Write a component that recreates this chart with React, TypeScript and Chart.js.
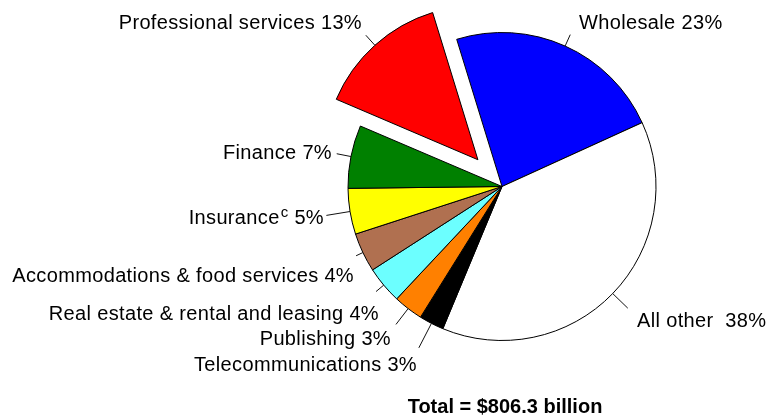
import React, { useEffect, useRef } from "react";
import { Chart, registerables } from "chart.js";

Chart.register(...registerables);

const categories = [
  "Wholesale",
  "All other",
  "Telecommunications",
  "Publishing",
  "Real estate & rental and leasing",
  "Accommodations & food services",
  "Insurance",
  "Finance",
  "Professional services",
];
const shares = [22.9, 38.0, 2.6, 3.1, 3.9, 4.1, 4.8, 6.6, 13.8];
const percentLabels = ["23%", "38%", "3%", "3%", "4%", "4%", "5%", "7%", "13%"];
const colors = [
  "#0000FF",
  "#FFFFFF",
  "#000000",
  "#FF8000",
  "#6CFFFF",
  "#B07050",
  "#FFFF00",
  "#008000",
  "#FF0000",
];
const explodedIndex = 8;
const totalText = "Total = $806.3 billion";

// label layout (style only): anchor x, baseline y, side, leader length
const labelLayout = [
  { x: 579, y: 29, align: "left", lead: 12.5 },
  { x: 637, y: 327, align: "left", lead: 21 },
  { x: 417, y: 371, align: "right", lead: 27.5 },
  { x: 391, y: 345, align: "right", lead: 20 },
  { x: 379, y: 320, align: "right", lead: 10 },
  { x: 354, y: 282, align: "right", lead: 7.5 },
  { x: 323, y: 224, align: "right", lead: 24 },
  { x: 332, y: 159, align: "right", lead: 14.5 },
  { x: 362, y: 29, align: "right", lead: 13.5 },
];

const FONT = "20px 'Liberation Sans', Arial, sans-serif";
const SUP_FONT = "15px 'Liberation Sans', Arial, sans-serif";

const explodePlugin = {
  id: "explodeSlice",
  afterDatasetsUpdate(chart: any) {
    const meta = chart.getDatasetMeta(0);
    const el = meta.data[explodedIndex];
    if (!el) return;
    const mid = (el.startAngle + el.endAngle) / 2;
    el.x += Math.cos(mid) * 36;
    el.y += Math.sin(mid) * 36;
  },
};

const labelPlugin = {
  id: "pieLabels",
  afterDatasetsDraw(chart: any) {
    const ctx = chart.ctx;
    const meta = chart.getDatasetMeta(0);
    ctx.save();
    meta.data.forEach((el: any, i: number) => {
      const lay = labelLayout[i];
      const mid = (el.startAngle + el.endAngle) / 2;
      const r = el.outerRadius;
      ctx.beginPath();
      ctx.strokeStyle = "#111";
      ctx.lineWidth = 1;
      ctx.moveTo(el.x + Math.cos(mid) * r, el.y + Math.sin(mid) * r);
      ctx.lineTo(el.x + Math.cos(mid) * (r + lay.lead), el.y + Math.sin(mid) * (r + lay.lead));
      ctx.stroke();

      const name = categories[i];
      const gap = i === 1 ? "  " : " ";
      const tail = gap + percentLabels[i];
      const sup = i === 6 ? "c" : "";
      ctx.fillStyle = "#000";
      ctx.textAlign = "left";
      ctx.textBaseline = "alphabetic";
      (ctx as any).letterSpacing = "0.35px";
      ctx.font = FONT;
      const wName = ctx.measureText(name).width;
      const wTail = ctx.measureText(tail).width;
      ctx.font = SUP_FONT;
      const wSup = sup ? ctx.measureText(sup).width : 0;
      const total = wName + wSup + wTail;
      let x = lay.align === "left" ? lay.x : lay.x - total;
      ctx.font = FONT;
      ctx.fillText(name, x, lay.y);
      x += wName;
      if (sup) {
        ctx.font = SUP_FONT;
        ctx.fillText(sup, x + 1, lay.y - 7);
        x += wSup + 1;
        ctx.font = FONT;
      }
      ctx.fillText(tail, x, lay.y);
    });
    (ctx as any).letterSpacing = "0px";
    ctx.font = "bold 20px 'Liberation Sans', Arial, sans-serif";
    ctx.textAlign = "center";
    ctx.fillStyle = "#000";
    ctx.fillText(totalText, 505, 413);
    ctx.restore();
  },
};

export default function App() {
  const ref = useRef<HTMLCanvasElement | null>(null);
  useEffect(() => {
    if (!ref.current) return;
    const chart = new Chart(ref.current, {
      type: "pie",
      data: {
        labels: categories,
        datasets: [
          {
            data: shares,
            backgroundColor: colors,
            borderColor: "#000",
            borderWidth: 1,
          },
        ],
      },
      options: {
        responsive: false,
        animation: false,
        rotation: -17.1,
        radius: 154,
        layout: { padding: { left: 237, right: 0, top: 0, bottom: 47 } },
        plugins: {
          legend: { display: false },
          tooltip: { enabled: false },
        },
      },
      plugins: [explodePlugin, labelPlugin],
    });
    return () => chart.destroy();
  }, []);
  return (
    <div style={{ position: "fixed", left: 0, top: 0, width: 767, height: 420, background: "#fff" }}>
      <canvas ref={ref} width={767} height={420} style={{ width: 767, height: 420 }} />
    </div>
  );
}
